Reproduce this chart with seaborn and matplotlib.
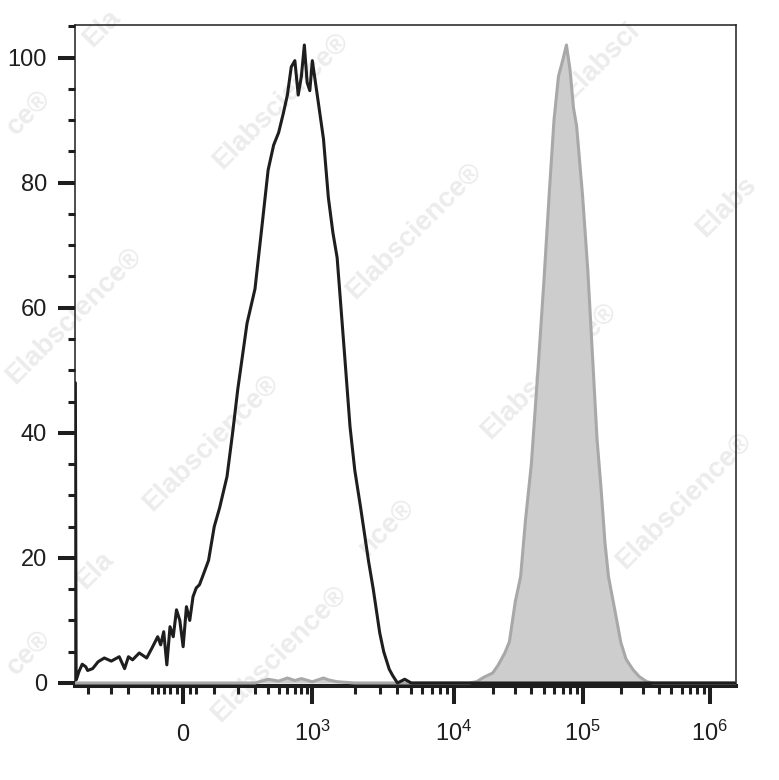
import numpy as np
import matplotlib
matplotlib.use("Agg")
import matplotlib.pyplot as plt
import seaborn as sns

# unstained / control histogram (black outline): fluorescence value vs % of max
black_x = [-645, -635, -620, -600, -560, -520, -500, -450, -400, -350,
           -300, -250, -220, -200, -180, -150, -120, -100, -80, -70,
           -60, -50, -40, -30, -20, -10, 0, 10, 20, 30,
           40, 50, 60, 80, 100, 120, 150, 175, 200, 250,
           300, 350, 400, 450, 500, 550, 600, 650, 700, 750,
           800, 850, 900, 950, 1000, 1100, 1200, 1300, 1400, 1500,
           1700, 1850, 2000, 2200, 2500, 2700, 3000, 3200, 3500, 3700,
           4000, 4500, 5000, 1e5, 1.6e6]
black_y = [48, 0.5, 1.0, 1.8, 3.0, 2.6, 2.0, 2.3, 3.4, 4.0,
           3.5, 4.2, 2.3, 4.2, 3.7, 4.8, 4.0, 5.6, 7.4, 6.1,
           8.2, 2.9, 9.0, 7.4, 11.7, 10.0, 5.8, 12.2, 10.0, 13.8,
           15.2, 15.7, 17.0, 19.6, 25, 28, 33, 40, 47, 57.5,
           63, 73, 82, 86, 88, 91, 94, 98.5, 99.5, 94,
           97, 102, 96, 94.7, 99.5, 93, 87, 77.6, 72, 68,
           52, 41, 34, 28, 19.5, 15, 8, 5, 2.2, 1.2,
           0, 0.6, 0, 0, 0]

# stained sample (grey filled)
gray_x = [-645, 300, 400, 500, 600, 700, 800, 1000, 1200, 1300,
          1500, 2000, 1.3e4, 1.5e4, 1.7e4, 2e4, 2.2e4, 2.5e4, 2.7e4, 3e4,
          3.3e4, 3.6e4, 4e4, 4.5e4, 5e4, 5.5e4, 6e4, 6.5e4, 7e4, 7.5e4,
          8e4, 8.5e4, 9e4, 1e5, 1.1e5, 1.2e5, 1.3e5, 1.4e5, 1.5e5, 1.6e5,
          1.8e5, 2e5, 2.2e5, 2.5e5, 2.8e5, 3.2e5, 3.6e5, 1.6e6]
gray_y = [0, 0, 0.6, 0.3, 0.8, 0.4, 0.7, 0.2, 0.8, 0.5,
          0.2, 0, 0, 0.2, 0.9, 1.6, 2.8, 4.9, 6.6, 13,
          17, 26, 35, 50, 64, 78, 90, 97, 99.5, 102,
          98, 92, 89, 78, 66, 52, 39, 31, 22.5, 17,
          11.5, 6.5, 3.8, 2.1, 1.0, 0.2, 0, 0]

x_major = [0, 1e3, 1e4, 1e5, 1e6]
x_labels = ["0", "$10^3$", "$10^4$", "$10^5$", "$10^6$"]
x_minor = [-500, -300, -200, -100, -80, -60, -40, -20, 20, 40,
           100, 200, 300, 400, 500, 600, 700, 800, 900,
           2e3, 3e3, 4e3, 5e3, 6e3, 7e3, 8e3, 9e3,
           2e4, 3e4, 4e4, 5e4, 6e4, 7e4, 8e4, 9e4,
           2e5, 3e5, 4e5, 5e5, 6e5, 7e5, 8e5, 9e5]
y_major = [0, 20, 40, 60, 80, 100]
y_minor = [5, 10, 15, 25, 30, 35, 45, 50, 55, 65, 70, 75, 85, 90, 95, 105]

# watermark pieces as they show in the picture (text, start x, start y in px)
watermarks = [("Ela", 92, 48), ("Elabscience\u00ae", 222, 170),
              ("Elabscience\u00ae", 355, 300), ("Elabscience\u00ae", 490, 440),
              ("Elabscience\u00ae", 625, 570), ("Elabscience\u00ae", 15, 385),
              ("Elabscience\u00ae", 152, 512), ("Elabscience\u00ae", 220, 723),
              ("Ela", 85, 590), ("ce\u00ae", 16, 676), ("ce\u00ae", 16, 136),
              ("Elabsci", 572, 100), ("Elabs", 705, 238), ("nce\u00ae", 367, 557)]

# biexponential-like display: asinh in the low range, decades above
W = 150.0
ANCH_V = np.array([-1e4, 0, 1e3, 1e4, 1e5, 1e6, 1e7])
ANCH_U = np.arcsinh(ANCH_V / W)
ANCH_P = np.array([-60.7, 183.0, 312.3, 454.0, 582.7, 710.0, 837.3])


def fwd(v):
    v = np.asarray(v, dtype=float)
    return np.interp(np.arcsinh(v / W), ANCH_U, ANCH_P)


def inv(p):
    p = np.asarray(p, dtype=float)
    return W * np.sinh(np.interp(p, ANCH_P, ANCH_U))


sns.set_style("ticks")
plt.rcParams["font.family"] = ["Liberation Sans", "DejaVu Sans"]
plt.rcParams["mathtext.fontset"] = "custom"
plt.rcParams["mathtext.rm"] = "Liberation Sans"
plt.rcParams["mathtext.it"] = "Liberation Sans"

fig = plt.figure(figsize=(7.79, 7.80), dpi=100)
ax = fig.add_axes([75 / 779, 1 - 685.5 / 780, 660.7 / 779, 660.5 / 780])
ax.patch.set_visible(False)

for txt, sx, sy in watermarks:
    fig.text(sx / 779, 1 - sy / 780, txt, rotation=45, rotation_mode="anchor",
             ha="left", va="baseline", fontsize=20, fontweight="bold",
             color="#ececec", zorder=-5)

ax.set_xscale("function", functions=(fwd, inv))

ax.fill_between(gray_x, gray_y, 0, color="#cdcdcd", lw=0, zorder=1)
sns.lineplot(x=gray_x, y=gray_y, ax=ax, color="#a8a8a8", lw=2.2,
             estimator=None, sort=False, zorder=2.6)
sns.lineplot(x=black_x, y=black_y, ax=ax, color="#1e1e1e", lw=2.2,
             estimator=None, sort=False, zorder=3)

ax.set_xlim(-650, 1.6e6)
ax.set_ylim(-0.4, 105.2)
ax.set_xlabel("")
ax.set_ylabel("")

ax.set_xticks(x_major)
ax.set_xticklabels(x_labels)
ax.set_xticks(x_minor, minor=True)
ax.set_yticks(y_major)
ax.set_yticks(y_minor, minor=True)

ax.tick_params(axis="both", which="major", color="#1e1e1e", labelsize=17,
               labelcolor="#1e1e1e", direction="out")
ax.tick_params(axis="x", which="major", length=13, width=2.9, pad=27)
ax.tick_params(axis="x", which="minor", length=5.8, width=2.2, color="#1e1e1e")
ax.tick_params(axis="y", which="major", length=12.2, width=2.9, pad=8)
ax.tick_params(axis="y", which="minor", length=5, width=2.2, color="#1e1e1e")
for t in ax.get_xticklabels():
    t.set_verticalalignment("baseline")

for side in ["top", "right", "left"]:
    ax.spines[side].set_linewidth(1.1)
    ax.spines[side].set_color("#1e1e1e")
ax.spines["bottom"].set_linewidth(2.9)
ax.spines["bottom"].set_color("#1e1e1e")

fig.savefig("out.png", dpi=100)
